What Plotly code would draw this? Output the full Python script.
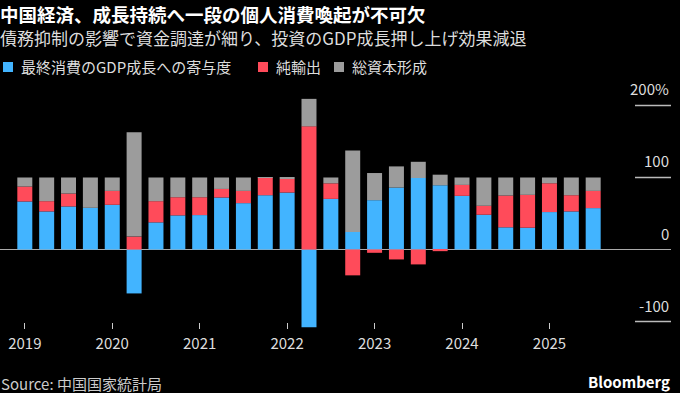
import plotly.graph_objects as go

quarters = [f"{y}Q{q}" for y in range(2019, 2026) for q in range(1, 5)][:27]
consumption = [66.7, 52.9, 59.8, 57.9, 62.1, -61.0, 37.7, 47.4, 47.8, 72.2, 64.4, 75.4, 79.1,
               -108.0, 70.3, 24.4, 68.5, 86.0, 99.3, 89.2, 74.5, 48.3, 30.8, 30.3, 52.0, 52.9, 57.5]
net_exports = [20.7, 14.2, 17.9, 0.0, 19.3, 17.9, 29.4, 25.2, 24.8, 11.9, 17.0, 24.6, 18.8,
               171.0, 21.6, -35.9, -4.6, -13.8, -20.7, -2.3, 15.2, 12.4, 44.1, 45.6, 40.0, 22.5, 23.9]
capital = [12.6, 32.9, 22.3, 42.1, 18.6, 145.0, 32.9, 27.4, 27.4, 15.9, 18.6, 0.4, 2.1,
           38.2, 8.1, 113.0, 37.7, 29.4, 22.5, 14.7, 10.3, 39.3, 25.1, 24.1, 8.0, 24.6, 18.6]
year_labels = ["2019", "2020", "2021", "2022", "2023", "2024", "2025"]
y_ticks = [200, 100, 0, -100]
y_tick_text = ["200%", "100", "0", "-100"]

names = ["最終消費のGDP成長への寄与度", "純輸出", "総資本形成"]
colors = ["#42B4FF", "#FF4B5A", "#9C9C9C"]
FONT = "Noto Sans CJK JP"
W, H = 680, 393
PL, PR, PT, PB = 0, 671, 90, 329  # plot area in pixels
PW, PH = PR - PL, PB - PT


def px(x):
    return (x - PL) / PW


def py(y):
    return (PB - y) / PH


xs = list(range(len(quarters)))
fig = go.Figure()
for name, vals, col in zip(names, [consumption, net_exports, capital], colors):
    fig.add_trace(go.Bar(x=xs, y=vals, name=name, marker=dict(color=col, line=dict(width=0)),
                         width=0.686, hovertext=quarters))

fig.update_layout(
    barmode="relative",
    width=W, height=H,
    paper_bgcolor="black", plot_bgcolor="black",
    margin=dict(l=PL, r=W - PR, t=PT, b=H - PB, autoexpand=False),
    font=dict(family=FONT, color="#dddddd", size=15),
    showlegend=False,
)
fig.update_xaxes(range=[-1.135, 29.56], tickvals=xs[::4], ticktext=year_labels,
                 ticks="inside", ticklen=6, tickcolor="#cccccc", tickwidth=1,
                 showgrid=False, zeroline=False, showline=False,
                 tickfont=dict(size=15, color="#dddddd"), ticklabelstandoff=4)
fig.update_yaxes(range=[-110.4, 221.5], showgrid=False, showticklabels=False,
                 zeroline=True, zerolinecolor="#aaaaaa", zerolinewidth=1, side="right")

for v, t in zip(y_ticks, y_tick_text):
    if v != 0:
        fig.add_shape(type="line", xref="paper", yref="y", x0=px(635), x1=1.0, y0=v, y1=v,
                      line=dict(color="#bbbbbb", width=1.5), layer="above")
    fig.add_annotation(xref="paper", yref="y", x=1.0, y=v, text=t, showarrow=False,
                       xanchor="right", yanchor="bottom", yshift=4,
                       font=dict(size=15, color="#dddddd"))

# manual legend
legend_sq_x = [3, 258, 334]
legend_tx_x = [19, 274, 350]
LY = 67
for name, col, sx, tx in zip(names, colors, legend_sq_x, legend_tx_x):
    fig.add_shape(type="rect", xref="paper", yref="paper",
                  x0=px(sx), x1=px(sx + 10), y0=py(LY + 5), y1=py(LY - 5),
                  fillcolor=col, line=dict(width=0))
    fig.add_annotation(xref="paper", yref="paper", x=px(tx), y=py(LY),
                       xanchor="left", yanchor="middle", showarrow=False, text=name,
                       font=dict(size=15, color="#dddddd"))

fig.add_annotation(xref="paper", yref="paper", x=px(-1), y=py(13.5),
                   xanchor="left", yanchor="middle", showarrow=False, borderpad=0,
                   text="<b>中国経済、成長持続へ一段の個人消費喚起が不可欠</b>",
                   font=dict(size=18.5, color="white"))
fig.add_annotation(xref="paper", yref="paper", x=px(-1), y=py(37.5),
                   xanchor="left", yanchor="middle", showarrow=False, borderpad=0,
                   text="債務抑制の影響で資金調達が細り、投資のGDP成長押し上げ効果減退",
                   font=dict(size=17, color="#dddddd"))
fig.add_annotation(xref="paper", yref="paper", x=px(-1), y=py(383),
                   xanchor="left", yanchor="middle", showarrow=False,
                   text="Source: 中国国家統計局", font=dict(size=15, color="#cccccc"))
fig.add_annotation(xref="paper", yref="paper", x=px(672), y=py(381),
                   xanchor="right", yanchor="middle", showarrow=False,
                   text="<b>Bloomberg</b>", font=dict(size=15, color="white"))

fig.write_html("out.html", config={"displayModeBar": False},
               post_script="document.body.style.margin='0';document.body.style.background='black';")
